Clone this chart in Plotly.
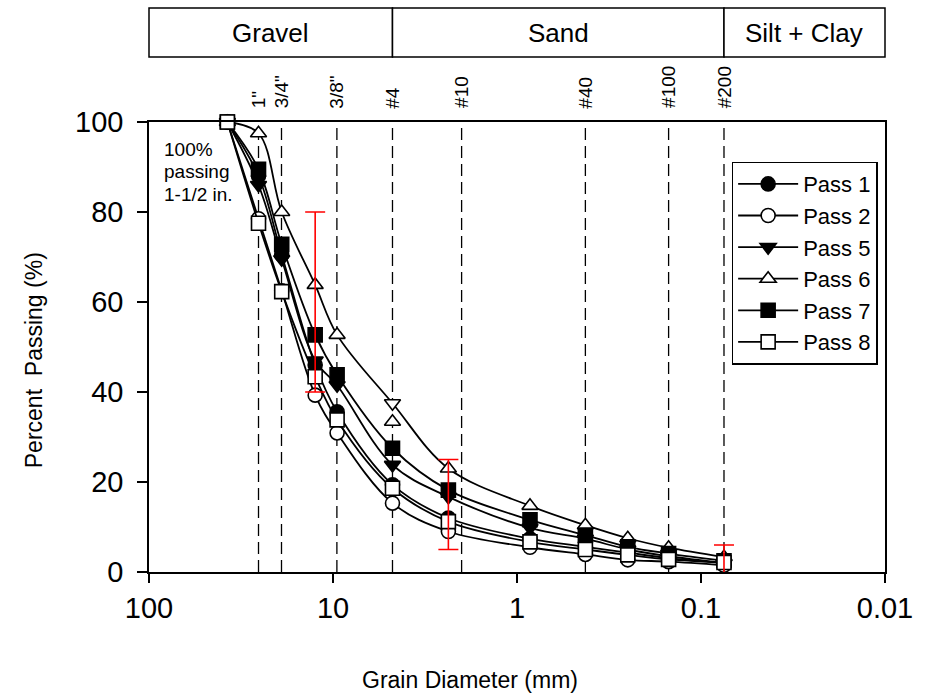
import numpy as np
import plotly.graph_objects as go

# ---------------- data ----------------
sizes = [37.5, 25.4, 19.0, 12.5, 9.5, 4.75, 2.36, 0.85, 0.425, 0.25, 0.15, 0.075]
pass1 = [100, 88.0, 70.5, 46.0, 35.6, 19.4, 12.0, 7.4, 5.6, 4.3, 3.1, 2.0]
pass2 = [100, 78.5, 62.5, 39.3, 30.9, 15.3, 9.0, 5.5, 3.9, 2.7, 2.3, 1.5]
pass5 = [100, 86.0, 69.5, 47.0, 41.5, 23.8, 16.7, 9.8, 7.4, 5.0, 3.5, 2.0]
pass6 = [100, 97.5, 80.0, 63.8, 52.7, 37.5, 23.0, 14.7, 10.4, 7.5, 5.4, 3.3]
pass7 = [100, 89.5, 72.8, 52.7, 43.8, 27.5, 18.2, 11.6, 8.2, 5.6, 4.1, 2.5]
pass8 = [100, 77.5, 62.3, 43.4, 33.8, 18.6, 11.2, 6.7, 5.0, 3.8, 2.8, 2.1]
extra_size = [4.75]
extra_value = [33.4]

err_size = [12.5, 2.36, 0.075]
err_mean = [60, 15, 2]
err_half = [20, 10, 4]

sieve_sizes = [25.4, 19.05, 9.525, 4.75, 2.0, 0.425, 0.15, 0.075]
sieve_labels = ['1"', '3/4"', '3/8"', '#4', '#10', '#40', '#100', '#200']

band_names = ["Gravel", "Sand", "Silt + Clay"]
band_edges = [100, 4.75, 0.075, 0.01]

x_ticks = [100, 10, 1, 0.1, 0.01]
x_ticktext = ["100", "10", "1", "0.1", "0.01"]
y_ticks = [0, 20, 40, 60, 80, 100]

FONT = "Liberation Sans, Arial, sans-serif"

fig = go.Figure()

# dashed sieve lines
for s in sieve_sizes:
    fig.add_trace(go.Scatter(x=[s, s], y=[0, 100], mode="lines",
                             line=dict(color="black", width=1.3, dash="12px,6px"),
                             showlegend=False, hoverinfo="skip"))

series = [
    ("Pass 1", pass1, "circle", "black"),
    ("Pass 2", pass2, "circle", "white"),
    ("Pass 5", pass5, "triangle-down", "black"),
    ("Pass 6", pass6, "triangle-up", "white"),
    ("Pass 7", pass7, "square", "black"),
    ("Pass 8", pass8, "square", "white"),
]
for name, vals, sym, fill in series:
    symbols = [sym] * len(vals)
    if name == "Pass 6":
        symbols[sizes.index(4.75)] = "triangle-down"
    fig.add_trace(go.Scatter(
        x=sizes, y=vals, name=name, mode="lines+markers",
        line=dict(color="black", width=1.8, shape="spline", smoothing=1.0),
        marker=dict(symbol=symbols, size=14, color=fill,
                    line=dict(color="black", width=1.6)),
        cliponaxis=False))

fig.add_trace(go.Scatter(
    x=extra_size, y=extra_value, mode="markers", showlegend=False,
    marker=dict(symbol="triangle-up", size=14, color="white",
                line=dict(color="black", width=1.6)),
    cliponaxis=False))

# error bars
fig.add_trace(go.Scatter(
    x=err_size, y=err_mean, mode="markers", showlegend=False,
    marker=dict(size=1, color="rgba(0,0,0,0)"),
    error_y=dict(type="data", array=err_half, color="red", thickness=1.6, width=10)))

# sieve labels
for s, lab in zip(sieve_sizes, sieve_labels):
    fig.add_annotation(x=np.log10(s), y=1.026, xref="x", yref="paper",
                       text=lab, textangle=-90, showarrow=False,
                       xanchor="center", yanchor="bottom",
                       font=dict(family=FONT, size=19, color="black"))

# soil class band
def xp(d):
    return (2 - np.log10(d)) / 4.0

y_lo, y_hi = 1.1444, 1.2533
for i, name in enumerate(band_names):
    x0 = xp(band_edges[i])
    x1 = xp(band_edges[i + 1])
    fig.add_shape(type="rect", xref="paper", yref="paper",
                  x0=x0, x1=x1, y0=y_lo, y1=y_hi,
                  line=dict(color="black", width=1.5), fillcolor="white")
    fig.add_annotation(x=(x0 + x1) / 2, y=(y_lo + y_hi) / 2, xref="paper", yref="paper",
                       text=name, showarrow=False, xanchor="center", yanchor="middle",
                       font=dict(family=FONT, size=26, color="black"))

# note
for j, t in enumerate(["100%", "passing", "1-1/2 in."]):
    fig.add_annotation(x=0.017, y=0.94 - j * 0.05, xref="paper", yref="paper",
                       text=t, showarrow=False, xanchor="left", yanchor="middle",
                       font=dict(family=FONT, size=19, color="black"))

# axis titles
fig.add_annotation(x=0.436, y=-0.240, xref="paper", yref="paper",
                   text="Grain Diameter (mm)", showarrow=False,
                   xanchor="center", yanchor="middle",
                   font=dict(family=FONT, size=23, color="black"))
fig.add_annotation(x=-0.156, y=0.471, xref="paper", yref="paper",
                   text="Percent\u00a0 Passing (%)", showarrow=False, textangle=-90,
                   xanchor="center", yanchor="middle",
                   font=dict(family=FONT, size=23, color="black"))

fig.update_layout(
    width=925, height=698,
    margin=dict(l=149, r=33, t=122, b=126),
    paper_bgcolor="white", plot_bgcolor="white",
    font=dict(family=FONT, color="black"),
    showlegend=True,
    legend=dict(x=0.99, y=0.912, xanchor="right", yanchor="top",
                bgcolor="white", bordercolor="black", borderwidth=1.5,
                font=dict(family=FONT, size=22, color="black"),
                tracegroupgap=0, itemwidth=60, entrywidth=95),
    xaxis=dict(type="log", range=[2, -2], tickvals=x_ticks, ticktext=x_ticktext,
               ticks="outside", ticklen=9, tickwidth=1.5, tickcolor="black",
               showline=True, linecolor="black", linewidth=1.5, mirror=True,
               showgrid=False, zeroline=False,
               tickfont=dict(family=FONT, size=29, color="black")),
    yaxis=dict(range=[0, 100], tickvals=y_ticks,
               ticks="outside", ticklen=10, tickwidth=1.5, tickcolor="black",
               showline=True, linecolor="black", linewidth=1.5, mirror=True,
               showgrid=False, zeroline=False, ticklabelstandoff=8,
               tickfont=dict(family=FONT, size=29, color="black")),
)

fig.write_html("out.html")
